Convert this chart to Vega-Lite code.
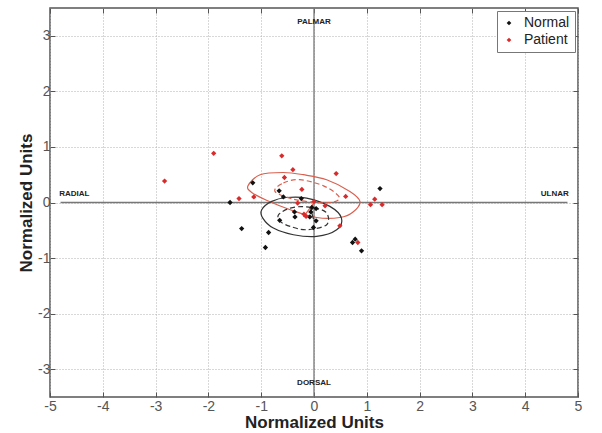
{
  "$schema": "https://vega.github.io/schema/vega-lite/v6.json",
  "width": 528,
  "height": 389,
  "autosize": {"type": "none"},
  "padding": {"left": 50, "top": 8, "right": 24, "bottom": 36},
  "background": "white",
  "config": {
    "view": {"stroke": "#555", "strokeWidth": 1.5},
    "font": "Liberation Sans",
    "axis": {
      "domain": false,
      "gridColor": "#b0b0b0",
      "gridDash": [1, 2],
      "gridWidth": 1,
      "tickColor": "#555",
      "tickSize": -5,
      "labelPadding": 7,
      "labelFontSize": 14,
      "labelColor": "#555",
      "labelFont": "Liberation Sans",
      "titleFont": "Liberation Sans",
      "titleFontSize": 17,
      "titleFontWeight": "bold",
      "titleColor": "#222",
      "labelExpr": "replace(datum.label, '−', '-')"
    },
    "legend": {
      "orient": "top-right",
      "offset": 3,
      "strokeColor": "#777",
      "fillColor": "white",
      "padding": 5,
      "labelFontSize": 14,
      "labelColor": "#222",
      "symbolSize": 22,
      "symbolType": "diamond",
      "rowPadding": 3,
      "labelOffset": 8
    }
  },
  "datasets": {
    "points": [
      {"x": -1.16, "y": 0.355, "group": "Normal"},
      {"x": -1.59, "y": 0.0, "group": "Normal"},
      {"x": -1.37, "y": -0.47, "group": "Normal"},
      {"x": -0.66, "y": 0.21, "group": "Normal"},
      {"x": -0.58, "y": 0.10, "group": "Normal"},
      {"x": -0.24, "y": 0.07, "group": "Normal"},
      {"x": -0.86, "y": -0.54, "group": "Normal"},
      {"x": -0.92, "y": -0.81, "group": "Normal"},
      {"x": -0.65, "y": -0.32, "group": "Normal"},
      {"x": -0.37, "y": -0.17, "group": "Normal"},
      {"x": -0.36, "y": -0.26, "group": "Normal"},
      {"x": -0.06, "y": -0.17, "group": "Normal"},
      {"x": 0.04, "y": -0.11, "group": "Normal"},
      {"x": -0.08, "y": -0.26, "group": "Normal"},
      {"x": 0.04, "y": -0.33, "group": "Normal"},
      {"x": -0.01, "y": -0.45, "group": "Normal"},
      {"x": 0.73, "y": -0.72, "group": "Normal"},
      {"x": 0.78, "y": -0.66, "group": "Normal"},
      {"x": 0.90, "y": -0.87, "group": "Normal"},
      {"x": 1.25, "y": 0.25, "group": "Normal"},
      {"x": -0.04, "y": -0.09, "group": "Normal"},
      {"x": -2.83, "y": 0.385, "group": "Patient"},
      {"x": -1.90, "y": 0.885, "group": "Patient"},
      {"x": -1.42, "y": 0.07, "group": "Patient"},
      {"x": -1.14, "y": 0.10, "group": "Patient"},
      {"x": -0.61, "y": 0.84, "group": "Patient"},
      {"x": -0.40, "y": 0.59, "group": "Patient"},
      {"x": -0.56, "y": 0.45, "group": "Patient"},
      {"x": -0.23, "y": 0.235, "group": "Patient"},
      {"x": -0.31, "y": -0.01, "group": "Patient"},
      {"x": -0.19, "y": -0.21, "group": "Patient"},
      {"x": -0.15, "y": -0.25, "group": "Patient"},
      {"x": 0.0, "y": 0.02, "group": "Patient"},
      {"x": 0.21, "y": -0.06, "group": "Patient"},
      {"x": 0.42, "y": 0.52, "group": "Patient"},
      {"x": 0.60, "y": 0.11, "group": "Patient"},
      {"x": 0.49, "y": -0.42, "group": "Patient"},
      {"x": 0.83, "y": -0.72, "group": "Patient"},
      {"x": 1.07, "y": -0.04, "group": "Patient"},
      {"x": 1.15, "y": 0.06, "group": "Patient"},
      {"x": 1.29, "y": -0.04, "group": "Patient"}
    ],
    "solid": [
      {"ell": "rs", "col": "#d9604f", "ord": 1, "x": -1.25, "y": 0.30},
      {"ell": "rs", "col": "#d9604f", "ord": 2, "x": -1.02, "y": 0.50},
      {"ell": "rs", "col": "#d9604f", "ord": 3, "x": -0.58, "y": 0.54},
      {"ell": "rs", "col": "#d9604f", "ord": 4, "x": -0.20, "y": 0.50},
      {"ell": "rs", "col": "#d9604f", "ord": 5, "x": 0.24, "y": 0.41},
      {"ell": "rs", "col": "#d9604f", "ord": 6, "x": 0.68, "y": 0.20},
      {"ell": "rs", "col": "#d9604f", "ord": 7, "x": 0.87, "y": 0.02},
      {"ell": "rs", "col": "#d9604f", "ord": 8, "x": 0.74, "y": -0.17},
      {"ell": "rs", "col": "#d9604f", "ord": 9, "x": 0.49, "y": -0.27},
      {"ell": "rs", "col": "#d9604f", "ord": 10, "x": 0.05, "y": -0.27},
      {"ell": "rs", "col": "#d9604f", "ord": 11, "x": -0.45, "y": -0.13},
      {"ell": "rs", "col": "#d9604f", "ord": 12, "x": -0.90, "y": 0.04},
      {"ell": "rs", "col": "#d9604f", "ord": 13, "x": -1.18, "y": 0.18},
      {"ell": "bs", "col": "#333333", "ord": 1, "x": -0.99, "y": -0.13},
      {"ell": "bs", "col": "#333333", "ord": 2, "x": -0.80, "y": 0.02},
      {"ell": "bs", "col": "#333333", "ord": 3, "x": -0.52, "y": 0.09},
      {"ell": "bs", "col": "#333333", "ord": 4, "x": -0.14, "y": 0.08},
      {"ell": "bs", "col": "#333333", "ord": 5, "x": 0.30, "y": -0.07},
      {"ell": "bs", "col": "#333333", "ord": 6, "x": 0.52, "y": -0.28},
      {"ell": "bs", "col": "#333333", "ord": 7, "x": 0.43, "y": -0.49},
      {"ell": "bs", "col": "#333333", "ord": 8, "x": 0.05, "y": -0.61},
      {"ell": "bs", "col": "#333333", "ord": 9, "x": -0.39, "y": -0.58},
      {"ell": "bs", "col": "#333333", "ord": 10, "x": -0.77, "y": -0.46},
      {"ell": "bs", "col": "#333333", "ord": 11, "x": -0.97, "y": -0.28}
    ],
    "dashed": [
      {"ell": "rd", "col": "#d9604f", "ord": 1, "x": -0.74, "y": 0.20},
      {"ell": "rd", "col": "#d9604f", "ord": 2, "x": -0.58, "y": 0.35},
      {"ell": "rd", "col": "#d9604f", "ord": 3, "x": -0.27, "y": 0.41},
      {"ell": "rd", "col": "#d9604f", "ord": 4, "x": 0.18, "y": 0.30},
      {"ell": "rd", "col": "#d9604f", "ord": 5, "x": 0.47, "y": 0.11},
      {"ell": "rd", "col": "#d9604f", "ord": 6, "x": 0.38, "y": 0.01},
      {"ell": "rd", "col": "#d9604f", "ord": 7, "x": 0.05, "y": 0.00},
      {"ell": "rd", "col": "#d9604f", "ord": 8, "x": -0.39, "y": 0.06},
      {"ell": "bd", "col": "#333333", "ord": 1, "x": -0.67, "y": -0.22},
      {"ell": "bd", "col": "#333333", "ord": 2, "x": -0.45, "y": -0.10},
      {"ell": "bd", "col": "#333333", "ord": 3, "x": -0.14, "y": -0.08},
      {"ell": "bd", "col": "#333333", "ord": 4, "x": 0.22, "y": -0.17},
      {"ell": "bd", "col": "#333333", "ord": 5, "x": 0.24, "y": -0.40},
      {"ell": "bd", "col": "#333333", "ord": 6, "x": -0.14, "y": -0.49},
      {"ell": "bd", "col": "#333333", "ord": 7, "x": -0.45, "y": -0.43},
      {"ell": "bd", "col": "#333333", "ord": 8, "x": -0.64, "y": -0.34}
    ],
    "segments": [
      {"col": "#d9604f", "x": -0.20, "y": -0.26, "x2": 0.02, "y2": 0.02},
      {"col": "#333333", "x": -0.06, "y": -0.12, "x2": -0.01, "y2": -0.30}
    ],
    "labels": [
      {"x": 0, "y": 3.24, "t": "PALMAR"},
      {"x": 0, "y": -3.24, "t": "DORSAL"},
      {"x": -4.54, "y": 0.16, "t": "RADIAL"},
      {"x": 4.56, "y": 0.16, "t": "ULNAR"}
    ],
    "axlines": [
      {"x": -4.8, "x2": 4.8, "y": 0, "y2": 0},
      {"x": 0, "x2": 0, "y": -3.5, "y2": 3.5}
    ]
  },
  "resolve": {"axis": {"x": "independent", "y": "independent"}},
  "layer": [
    {
      "data": {"name": "axlines"},
      "mark": {"type": "rule", "color": "#777", "strokeWidth": 1.3},
      "encoding": {
        "x": {"field": "x", "type": "quantitative", "scale": {"domain": [-5, 5], "nice": false, "zero": false},
          "axis": {"orient": "bottom", "title": "Normalized Units", "values": [-5,-4,-3,-2,-1,0,1,2,3,4,5], "titlePadding": 1, "labelFlush": false}},
        "x2": {"field": "x2"},
        "y": {"field": "y", "type": "quantitative", "scale": {"domain": [-3.5, 3.5], "nice": false, "zero": false},
          "axis": {"orient": "left", "title": "Normalized Units", "values": [-3,-2,-1,0,1,2,3], "titlePadding": 2, "labelPadding": 5}},
        "y2": {"field": "y2"}
      }
    },
    {
      "data": {"name": "labels"},
      "mark": {"type": "text", "fontSize": 8, "fontWeight": "bold", "color": "#222", "font": "Liberation Sans"},
      "encoding": {
        "x": {"field": "x", "type": "quantitative",
          "axis": {"orient": "top", "title": null, "labels": false, "grid": false, "values": [-5,-4,-3,-2,-1,0,1,2,3,4,5]}},
        "y": {"field": "y", "type": "quantitative",
          "axis": {"orient": "right", "title": null, "labels": false, "grid": false, "values": [-3,-2,-1,0,1,2,3]}},
        "text": {"field": "t"}
      }
    },
    {
      "data": {"name": "solid"},
      "mark": {"type": "line", "interpolate": "cardinal-closed", "strokeWidth": 1.2},
      "encoding": {
        "x": {"field": "x", "type": "quantitative", "axis": null},
        "y": {"field": "y", "type": "quantitative", "axis": null},
        "detail": {"field": "ell"},
        "order": {"field": "ord"},
        "color": {"field": "col", "type": "nominal", "scale": null}
      }
    },
    {
      "data": {"name": "dashed"},
      "mark": {"type": "line", "interpolate": "cardinal-closed", "strokeWidth": 1.2, "strokeDash": [5, 3]},
      "encoding": {
        "x": {"field": "x", "type": "quantitative", "axis": null},
        "y": {"field": "y", "type": "quantitative", "axis": null},
        "detail": {"field": "ell"},
        "order": {"field": "ord"},
        "color": {"field": "col", "type": "nominal", "scale": null}
      }
    },
    {
      "data": {"name": "segments"},
      "mark": {"type": "rule", "strokeWidth": 1.2},
      "encoding": {
        "x": {"field": "x", "type": "quantitative", "axis": null},
        "y": {"field": "y", "type": "quantitative", "axis": null},
        "x2": {"field": "x2"},
        "y2": {"field": "y2"},
        "color": {"field": "col", "type": "nominal", "scale": null}
      }
    },
    {
      "data": {"name": "points"},
      "mark": {"type": "point", "shape": "diamond", "filled": true, "size": 28, "opacity": 1},
      "encoding": {
        "x": {"field": "x", "type": "quantitative", "axis": null},
        "y": {"field": "y", "type": "quantitative", "axis": null},
        "color": {"field": "group", "type": "nominal", "title": null,
          "scale": {"domain": ["Normal", "Patient"], "range": ["#111111", "#d92b2b"]},
          "legend": {"symbolType": "diamond", "symbolFillColor": null}}
      }
    }
  ]
}
